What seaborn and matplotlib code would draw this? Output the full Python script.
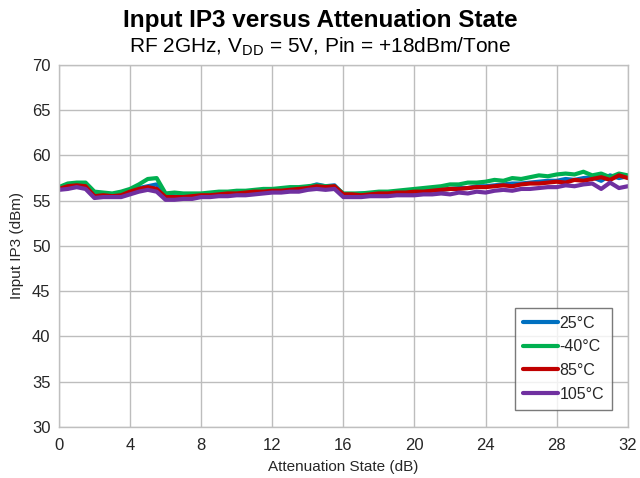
import numpy as np
import pandas as pd
import seaborn as sns
import matplotlib.pyplot as plt

# Attenuation states (dB), 0.5 dB steps
atten = [i * 0.5 for i in range(65)]

temps = ["25°C", "-40°C", "85°C", "105°C"]

iip3_25 = [56.4, 56.7, 56.6, 56.5, 55.6, 55.7, 55.6, 55.7, 56.0, 56.4, 56.6, 56.8, 55.5,
           55.5, 55.4, 55.5, 55.6, 55.7, 55.7, 55.8, 55.9, 55.9, 56.0, 56.1, 56.2, 56.3,
           56.3, 56.4, 56.5, 56.8, 56.6, 56.7, 55.7, 55.7, 55.8, 55.8, 55.9, 55.9, 55.9,
           56.0, 56.0, 56.1, 56.2, 56.2, 56.3, 56.4, 56.4, 56.6, 56.6, 56.7, 56.8, 56.9,
           56.9, 57.0, 57.1, 57.2, 57.2, 57.4, 57.3, 57.5, 57.6, 57.2, 57.8, 57.5, 57.7]
iip3_m40 = [56.5, 56.9, 57.0, 57.0, 56.0, 55.9, 55.8, 56.0, 56.3, 56.8, 57.4, 57.5, 55.8,
            55.9, 55.8, 55.8, 55.8, 55.9, 56.0, 56.0, 56.1, 56.1, 56.2, 56.3, 56.3, 56.4,
            56.5, 56.5, 56.6, 56.7, 56.6, 56.6, 55.8, 55.8, 55.8, 55.9, 56.0, 56.0, 56.1,
            56.2, 56.3, 56.4, 56.5, 56.6, 56.8, 56.8, 57.0, 57.0, 57.1, 57.3, 57.2, 57.5,
            57.4, 57.6, 57.8, 57.7, 57.9, 58.0, 57.9, 58.2, 57.8, 58.0, 57.6, 58.0, 57.8]
iip3_85 = [56.3, 56.6, 56.7, 56.6, 55.5, 55.6, 55.5, 55.6, 56.0, 56.3, 56.5, 56.3, 55.4,
           55.4, 55.4, 55.5, 55.6, 55.6, 55.7, 55.8, 55.8, 55.9, 56.0, 56.0, 56.1, 56.1,
           56.2, 56.3, 56.4, 56.6, 56.5, 56.6, 55.7, 55.7, 55.6, 55.7, 55.8, 55.8, 55.9,
           55.9, 56.0, 56.0, 56.1, 56.2, 56.3, 56.3, 56.4, 56.5, 56.5, 56.6, 56.7, 56.6,
           56.8, 56.9, 56.9, 57.0, 57.1, 57.0, 57.3, 57.2, 57.4, 57.6, 57.3, 57.8, 57.5]
iip3_105 = [56.2, 56.3, 56.5, 56.3, 55.3, 55.4, 55.4, 55.4, 55.7, 56.0, 56.2, 56.0, 55.1,
            55.1, 55.2, 55.2, 55.4, 55.4, 55.5, 55.5, 55.6, 55.6, 55.7, 55.8, 55.9, 55.9,
            56.0, 56.0, 56.2, 56.3, 56.2, 56.3, 55.4, 55.4, 55.4, 55.5, 55.5, 55.5, 55.6,
            55.6, 55.6, 55.7, 55.7, 55.8, 55.7, 55.9, 55.8, 56.0, 55.9, 56.1, 56.2, 56.1,
            56.3, 56.3, 56.4, 56.5, 56.5, 56.7, 56.6, 56.8, 56.9, 56.3, 57.0, 56.4, 56.6]

series = [iip3_25, iip3_m40, iip3_85, iip3_105]
colors = ["#0070C0", "#00B050", "#C00000", "#7030A0"]

df = pd.concat(
    [pd.DataFrame({"atten": atten, "iip3": vals, "temp": t}) for t, vals in zip(temps, series)],
    ignore_index=True,
)

sns.set_theme(style="whitegrid")
plt.rcParams["font.family"] = ["Liberation Sans", "DejaVu Sans"]
plt.rcParams["mathtext.fontset"] = "custom"
plt.rcParams["mathtext.rm"] = "Liberation Sans"

fig = plt.figure(figsize=(6.4, 4.78), dpi=100)
ax = fig.add_axes([0.092, 0.107, 0.889, 0.757])

sns.lineplot(data=df, x="atten", y="iip3", hue="temp", hue_order=temps,
             palette=colors, linewidth=3, ax=ax, estimator=None, sort=False)

ax.set_xlim(0, 32)
ax.set_ylim(30, 70)
ax.set_xticks(np.arange(0, 33, 4))
ax.set_yticks(np.arange(30, 71, 5))
ax.tick_params(axis="both", labelsize=12, colors="#262626", length=0)
ax.tick_params(axis="x", pad=8)
ax.tick_params(axis="y", pad=6)
ax.grid(True, color="#BDBDBD", linewidth=1)
for s in ax.spines.values():
    s.set_color("#BFBFBF")
    s.set_linewidth(1)

ax.set_xlabel("Attenuation State (dB)", fontsize=11, color="#262626", labelpad=5)
ax.set_ylabel("Input IP3 (dBm)", fontsize=11, color="#262626", labelpad=6)

fig.text(0.5, 0.957, "Input IP3 versus Attenuation State", ha="center", va="center",
         fontsize=17.5, fontweight="bold", color="black")
fig.text(0.5, 0.903, r"RF 2GHz, V$_{\mathrm{DD}}$ = 5V, Pin = +18dBm/Tone", ha="center",
         va="center", fontsize=15, color="black")

leg = ax.legend(loc="lower right", bbox_to_anchor=(0.972, 0.047), borderaxespad=0,
                frameon=True, fancybox=False, fontsize=11.5, handlelength=2.2,
                handletextpad=0.1, labelspacing=0.55, borderpad=0.5, title=None)
leg.get_frame().set_edgecolor("#595959")
leg.get_frame().set_linewidth(1)
for line in leg.get_lines():
    line.set_linewidth(3)

fig.savefig("out.png", dpi=100)
